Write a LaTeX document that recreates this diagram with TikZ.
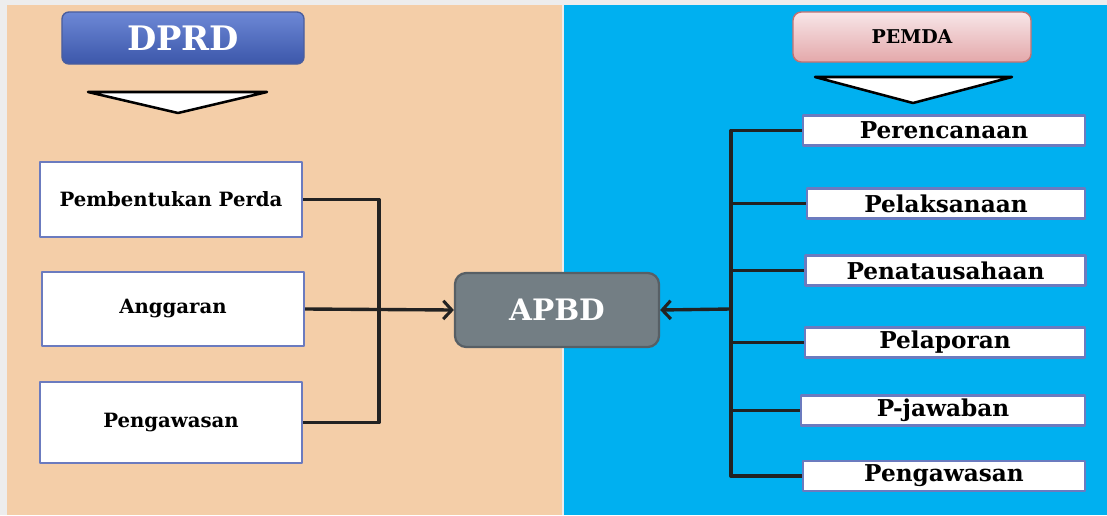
\documentclass[tikz,border=0pt]{standalone}
\usepackage{fontspec}
\setmainfont{DejaVu Serif}
\usetikzlibrary{arrows.meta}
\definecolor{latar}{HTML}{EDEDED}
\definecolor{peach}{HTML}{F4CEA8}
\definecolor{biru}{HTML}{00B0F0}
\definecolor{garisbox}{HTML}{6B7BBF}
\definecolor{dprdatas}{HTML}{6D88D6}
\definecolor{dprdbawah}{HTML}{3C57AA}
\definecolor{dprdgaris}{HTML}{4A5E9E}
\definecolor{pemdaatas}{HTML}{F7E6E8}
\definecolor{pemdabawah}{HTML}{E4A8AA}
\definecolor{pemdagaris}{HTML}{C07272}
\definecolor{apbdisi}{HTML}{737E84}
\definecolor{apbdgaris}{HTML}{575F65}
\definecolor{hubung}{HTML}{222222}
\begin{document}
\begin{tikzpicture}[x=0.025cm, y=-0.025cm, line join=round, >={Straight Barb[length=6pt,width=13pt,line width=2.2pt]}]
	\tikzset{
		kotakkiri/.style={draw=garisbox, line width=1.6pt, fill=white, inner sep=0pt, minimum width=6.55cm, font=\bfseries\fontsize{14}{16}\selectfont},
		kotakkanan/.style={draw=garisbox, line width=2pt, fill=white, inner sep=0pt, minimum width=7cm, minimum height=0.75cm, font=\bfseries\fontsize{16.5}{18}\selectfont},
		hub/.style={draw=hubung, line width=2.4pt},
		panah/.style={draw=black, line width=1.8pt, fill=white, line join=round}
	}
	\useasboundingbox (0,0) rectangle (1107,515);
	% latar
	\fill[latar] (0,0) rectangle (1107,515);
	\fill[peach] (7,5) rectangle (562,515);
	\fill[biru] (564,5) rectangle (1107,515);
	% judul
	\node[draw=dprdgaris, line width=1pt, rounded corners=5pt, top color=dprdatas, bottom color=dprdbawah, minimum width=6.05cm, minimum height=1.3cm, text=white, font=\bfseries\fontsize{24}{28}\selectfont] (dprd) at (183,38) {DPRD};
	\node[draw=pemdagaris, line width=1pt, rounded corners=6pt, top color=pemdaatas, bottom color=pemdabawah, minimum width=5.95cm, minimum height=1.25cm, font=\bfseries\fontsize{13.5}{16}\selectfont] (pemda) at (912,37) {PEMDA};
	\draw[panah] (88,92) -- (267,92) -- (178,113) -- cycle;
	\draw[panah] (815,77) -- (1012,77) -- (913,103) -- cycle;
	% pusat
	\node[draw=apbdgaris, line width=1.6pt, fill=apbdisi, rounded corners=8pt, minimum width=5.1cm, minimum height=1.85cm, text=white, font=\bfseries\fontsize{21}{25}\selectfont] (apbd) at (557,310) {APBD};
	% kotak DPRD
	\node[kotakkiri, minimum height=1.875cm] (lb1) at (171,199.5) {Pembentukan Perda};
	\node[kotakkiri, minimum height=1.85cm] (lb2) at (173,309) {Anggaran};
	\node[kotakkiri, minimum height=2.025cm] (lb3) at (171,422.5) {Pengawasan};
	% kotak PEMDA
	\node[kotakkanan, minimum width=7.05cm] (rb1) at (944,130.5) {Perencanaan};
	\node[kotakkanan, minimum width=6.95cm] (rb2) at (946,203.5) {Pelaksanaan};
	\node[kotakkanan, minimum width=6.98cm] (rb3) at (945.5,270.5) {Penatausahaan};
	\node[kotakkanan, minimum width=7cm] (rb4) at (945,342.5) {Pelaporan};
	\node[kotakkanan, minimum width=7.1cm] (rb5) at (943,410.5) {P-jawaban};
	\node[kotakkanan, minimum width=7.05cm] (rb6) at (944,476) {Pengawasan};
	% penghubung
	\coordinate (lj) at (379,309);
	\coordinate (rj) at (731,309);
	\draw[hub] (lb1.east) -| (lj) |- (lb3.east);
	\draw[hub,->] (lb2.east) -- (apbd.west);
	\draw[hub] (rb1.west) -| (rj) |- (rb6.west);
	\foreach \i in {2,...,5}
		\draw[hub] (rj |- rb\i.west) -- (rb\i.west);
	\draw[hub,->] (rj) -- (apbd.east);
\end{tikzpicture}
\end{document}
